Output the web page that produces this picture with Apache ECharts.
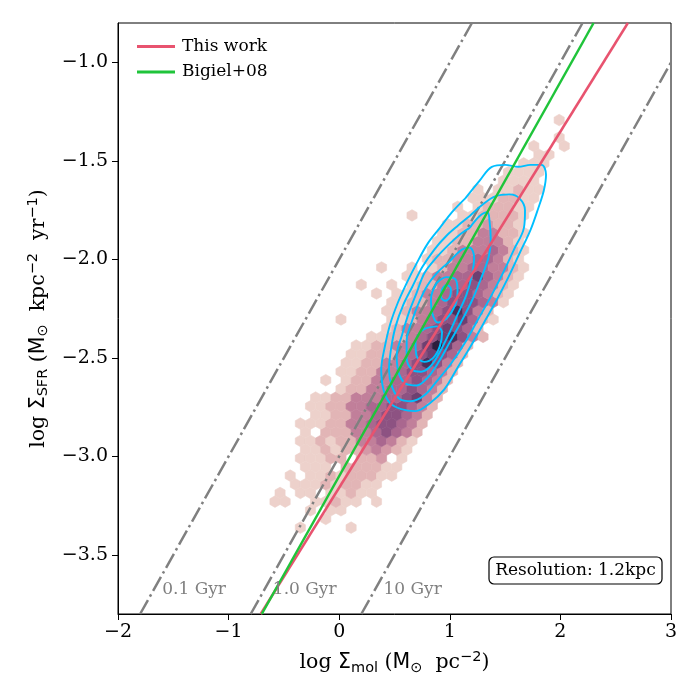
<!DOCTYPE html>
<html>
<head>
<meta charset="utf-8">
<script src="https://cdn.jsdelivr.net/npm/echarts@6/dist/echarts.min.js"></script>
<style>
html, body { margin: 0; padding: 0; background: #fff; }
#chart { width: 700px; height: 700px; }
</style>
</head>
<body>
<div id="chart"></div>
<script>
// axis ticks
var xTicks = [-2, -1, 0, 1, 2, 3];
var yTicks = [-3.5, -3.0, -2.5, -2.0, -1.5, -1.0];

// hexbin grid (data units)
var hexX0 = -0.5805, hexDX = 0.09177;
var hexY0 = -3.2295, hexDY = 0.04402;
// [row, first column, density level per column (0 = empty)]
var hexRows = [
    [-3, 2, '100001'],
    [-2, 5, '1'],
    [-1, 3, '1011'],
    [0, 0, '11001121101'],
    [1, 0, '1011011211'],
    [2, 2, '111212211'],
    [3, 1, '10112122211'],
    [4, 3, '1110222211'],
    [5, 2, '11122022301'],
    [6, 3, '11212234321'],
    [7, 2, '112122445421'],
    [8, 3, '102224456542'],
    [9, 2, '1112244566542'],
    [10, 4, '112244566542'],
    [11, 3, '1122445566542'],
    [12, 4, '1122444556742'],
    [13, 6, '12244556542'],
    [14, 5, '1012244556542'],
    [15, 6, '112244566542'],
    [16, 7, '112244568642'],
    [17, 7, '112224567652'],
    [18, 8, '112244579752'],
    [19, 9, '112245678642'],
    [20, 11, '1244567652'],
    [21, 6, '1000011245667521'],
    [22, 11, '11244568642'],
    [23, 11, '112245666541'],
    [24, 10, '10112445665421'],
    [25, 8, '1001012245565421'],
    [26, 13, '112445575421'],
    [27, 10, '100101244554421'],
    [28, 15, '1224455421'],
    [29, 15, '1124445421'],
    [30, 16, '112244421'],
    [31, 16, '112244221'],
    [32, 17, '11223221'],
    [33, 13, '100001122221'],
    [34, 18, '10122211'],
    [35, 19, '1112211'],
    [36, 20, '1011211'],
    [37, 22, '1111'],
    [38, 23, '1111'],
    [39, 24, '111'],
    [40, 26, '11'],
    [41, 25, '1001'],
    [42, 28, '1'],
    [44, 28, '1']
];
var hexMaxLevel = 9;

// straight lines, end points read at the frame
var thisWork = [[-0.71, -3.8], [2.61, -0.8]];
var bigiel08 = [[-0.7, -3.8], [2.3, -0.8]];
var tdep01 = [[-1.8, -3.8], [1.2, -0.8]];
var tdep1 = [[-0.8, -3.8], [2.2, -0.8]];
var tdep10 = [[0.2, -3.8], [3.0, -1.0]];

// depletion time labels
var gyrLabels = ['0.1 Gyr', '1.0 Gyr', '10 Gyr'];
var gyrLabelX = [-1.6, -0.6, 0.4];
var gyrLabelY = -3.7;

// density contours (closed)
var contour1 = [[1.14, -1.69], [1.27, -1.60], [1.38, -1.53], [1.50, -1.52], [1.62, -1.53], [1.73, -1.52], [1.83, -1.52], [1.87, -1.57], [1.85, -1.65], [1.80, -1.74], [1.73, -1.85], [1.63, -1.97], [1.53, -2.09], [1.42, -2.21], [1.31, -2.32], [1.19, -2.44], [1.07, -2.55], [0.95, -2.66], [0.82, -2.73], [0.69, -2.77], [0.56, -2.76], [0.46, -2.73], [0.40, -2.66], [0.38, -2.56], [0.41, -2.45], [0.46, -2.33], [0.53, -2.22], [0.61, -2.12], [0.70, -2.02], [0.80, -1.92], [0.91, -1.84], [1.02, -1.76]];
var contour2 = [[1.18, -1.78], [1.30, -1.72], [1.41, -1.68], [1.54, -1.67], [1.63, -1.69], [1.68, -1.75], [1.67, -1.84], [1.58, -1.95], [1.48, -2.07], [1.37, -2.19], [1.25, -2.31], [1.14, -2.42], [1.01, -2.53], [0.88, -2.62], [0.77, -2.69], [0.65, -2.72], [0.55, -2.71], [0.48, -2.65], [0.45, -2.56], [0.47, -2.45], [0.51, -2.34], [0.58, -2.23], [0.66, -2.14], [0.75, -2.04], [0.86, -1.95], [0.97, -1.88], [1.07, -1.83]];
var contour3 = [[1.18, -1.84], [1.27, -1.78], [1.34, -1.76], [1.36, -1.81], [1.37, -1.90], [1.35, -1.99], [1.28, -2.10], [1.20, -2.21], [1.10, -2.32], [1.00, -2.42], [0.90, -2.52], [0.80, -2.60], [0.70, -2.64], [0.60, -2.63], [0.54, -2.58], [0.52, -2.49], [0.57, -2.38], [0.63, -2.27], [0.70, -2.17], [0.77, -2.07], [0.88, -1.99], [1.00, -1.92], [1.10, -1.87]];
var contour4 = [[1.00, -2.01], [1.11, -1.95], [1.18, -1.94], [1.22, -1.99], [1.20, -2.08], [1.15, -2.18], [1.07, -2.28], [0.99, -2.38], [0.91, -2.47], [0.83, -2.54], [0.74, -2.57], [0.66, -2.56], [0.61, -2.50], [0.61, -2.41], [0.66, -2.31], [0.72, -2.22], [0.80, -2.13], [0.90, -2.06]];
var contour5 = [[0.88, -2.12], [0.97, -2.09], [1.05, -2.10], [1.07, -2.16], [1.05, -2.23], [0.97, -2.30], [0.89, -2.32], [0.84, -2.27], [0.83, -2.20]];
var contour6 = [[0.93, -2.15], [0.97, -2.13], [1.01, -2.15], [1.00, -2.19], [0.96, -2.21], [0.92, -2.19]];
var contour7 = [[0.78, -2.35], [0.88, -2.34], [0.93, -2.37], [0.91, -2.44], [0.85, -2.50], [0.77, -2.52], [0.70, -2.49], [0.69, -2.42], [0.73, -2.37]];

var contours = [contour1, contour2, contour3, contour4, contour5, contour6, contour7];

var SERIF = 'DejaVu Serif';
var SANS = 'DejaVu Sans';

// seaborn default cubehelix palette (light .85 -> dark .15)
function hexColor(level) {
    var t = (level - 1) / (hexMaxLevel - 1);
    var x = 0.85 - 0.7 * t;
    var a = 0.8 * x * (1 - x) / 2;
    var phi = 2 * Math.PI * (0.4 * x);
    var c = Math.cos(phi), s = Math.sin(phi);
    var r = x + a * (-0.14861 * c + 1.78277 * s);
    var g = x + a * (-0.29227 * c - 0.90649 * s);
    var b = x + a * (1.97294 * c);
    function to255(v) { return Math.round(Math.max(0, Math.min(1, v)) * 255); }
    return 'rgb(' + to255(r) + ',' + to255(g) + ',' + to255(b) + ')';
}

var hexData = [];
hexRows.forEach(function (row) {
    var r = row[0], c0 = row[1], s = row[2];
    for (var i = 0; i < s.length; i++) {
        var lv = +s[i];
        if (!lv) continue;
        var c = c0 + i + (Math.abs(r) % 2) * 0.5;
        hexData.push([hexX0 + hexDX * c, hexY0 + hexDY * r, lv]);
    }
});

function minus(v) {
    return String(v).replace('-', '\u2212');
}

function closeLoop(pts) {
    return pts.concat([pts[0]]);
}

var series = [];

series.push({
    type: 'custom',
    z: 1,
    silent: true,
    clip: true,
    data: hexData,
    encode: { x: 0, y: 1 },
    renderItem: function (params, api) {
        var cx = api.value(0), cy = api.value(1);
        var hw = hexDX / 2, h1 = hexDY * 2 / 3, h2 = hexDY / 3;
        var pts = [
            [cx + hw, cy - h2], [cx + hw, cy + h2], [cx, cy + h1],
            [cx - hw, cy + h2], [cx - hw, cy - h2], [cx, cy - h1]
        ].map(function (p) { return api.coord(p); });
        var col = hexColor(api.value(2));
        return {
            type: 'polygon',
            shape: { points: pts },
            style: { fill: col, stroke: col, lineWidth: 0.6 }
        };
    }
});

[tdep01, tdep1, tdep10].forEach(function (pts) {
    series.push({
        type: 'line',
        z: 2,
        silent: true,
        data: pts,
        symbol: 'none',
        lineStyle: { color: '#808080', width: 2.5, type: [16, 4, 2.5, 4], cap: 'butt' }
    });
});

contours.forEach(function (pts) {
    series.push({
        type: 'line',
        z: 3,
        silent: true,
        data: closeLoop(pts),
        symbol: 'none',
        smooth: 0.35,
        lineStyle: { color: '#00bfff', width: 1.9 }
    });
});

series.push({
    name: 'This work',
    type: 'line',
    z: 4,
    data: thisWork,
    symbol: 'none',
    lineStyle: { color: '#e8536f', width: 2.5 },
    itemStyle: { color: '#e8536f' }
});
series.push({
    name: 'Bigiel+08',
    type: 'line',
    z: 5,
    data: bigiel08,
    symbol: 'none',
    lineStyle: { color: '#1fc43a', width: 2.5 },
    itemStyle: { color: '#1fc43a' }
});

series.push({
    type: 'custom',
    z: 6,
    silent: true,
    data: gyrLabelX.map(function (x, i) { return [x, gyrLabelY, i]; }),
    encode: { x: 0, y: 1 },
    renderItem: function (params, api) {
        var p = api.coord([api.value(0), api.value(1)]);
        return {
            type: 'text',
            x: p[0],
            y: p[1] + 4,
            style: {
                text: gyrLabels[api.value(2)],
                fill: '#808080',
                font: '17px "' + SERIF + '"',
                align: 'left',
                verticalAlign: 'bottom'
            }
        };
    }
});

var rich = {
    serif: { fontFamily: SERIF, fontSize: 20.5, color: '#000' },
    sans: { fontFamily: SANS, fontSize: 20.5, color: '#000' },
    sub: { fontFamily: SANS, fontSize: 14.5, color: '#000', padding: [10, 0, 0, 0] },
    sup: { fontFamily: SANS, fontSize: 14.5, color: '#000', padding: [0, 0, 11, 0] }
};

var chart = echarts.init(document.getElementById('chart'), null, { renderer: 'canvas' });
chart.setOption({
    animation: false,
    backgroundColor: '#fff',
    grid: {
        left: 118, right: 29, top: 23, bottom: 86,
        show: true, borderColor: '#000', borderWidth: 1,
        containLabel: false, outerBoundsMode: 'none'
    },
    legend: {
        data: ['This work', 'Bigiel+08'],
        orient: 'vertical',
        left: 132, top: 33,
        icon: 'rect',
        itemWidth: 38, itemHeight: 3, itemGap: 8.5,
        textStyle: { fontFamily: SERIF, fontSize: 17, color: '#000', padding: [0, 0, 0, 2] }
    },
    xAxis: {
        type: 'value',
        min: -2, max: 3, interval: 1,
        name: '{serif|log }{sans|Σ}{sub|mol}{serif| (}{sans|M}{sub|⊙}{serif|  pc}{sup|−2}{serif|)}',
        nameLocation: 'middle',
        nameGap: 36,
        nameTextStyle: { rich: rich },
        axisLine: { show: true, onZero: false, lineStyle: { color: '#000', width: 1 } },
        axisTick: { show: true, inside: false, length: 6, lineStyle: { color: '#000', width: 1 } },
        axisLabel: {
            margin: 9, color: '#000', fontFamily: SERIF, fontSize: 19,
            formatter: function (v) { return minus(v); }
        },
        splitLine: { show: false }
    },
    yAxis: {
        type: 'value',
        min: -3.8, max: -0.8,
        name: '{serif|log }{sans|Σ}{sub|SFR}{serif| (}{sans|M}{sub|⊙}{serif|  kpc}{sup|−2}{serif|  yr}{sup|−1}{serif|)}',
        nameLocation: 'middle',
        nameRotate: 90,
        nameGap: 65,
        nameTextStyle: { rich: rich },
        axisLine: { show: true, onZero: false, lineStyle: { color: '#000', width: 1 } },
        axisTick: { show: true, inside: false, length: 6, customValues: yTicks, lineStyle: { color: '#000', width: 1 } },
        axisLabel: {
            margin: 10, color: '#000', fontFamily: SERIF, fontSize: 19,
            customValues: yTicks,
            formatter: function (v) { return minus(v.toFixed(1)); }
        },
        splitLine: { show: false }
    },
    graphic: [{
        type: 'group',
        z: 100,
        children: [{
            type: 'rect',
            shape: { x: 489, y: 557, width: 173, height: 27, r: 5 },
            style: { fill: '#fff', stroke: '#000', lineWidth: 1.2 }
        }, {
            type: 'text',
            style: {
                x: 575.5, y: 571, text: 'Resolution: 1.2kpc',
                font: '17px "' + SERIF + '"', fill: '#000',
                align: 'center', verticalAlign: 'middle'
            }
        }]
    }],
    series: series
});
</script>
</body>
</html>
